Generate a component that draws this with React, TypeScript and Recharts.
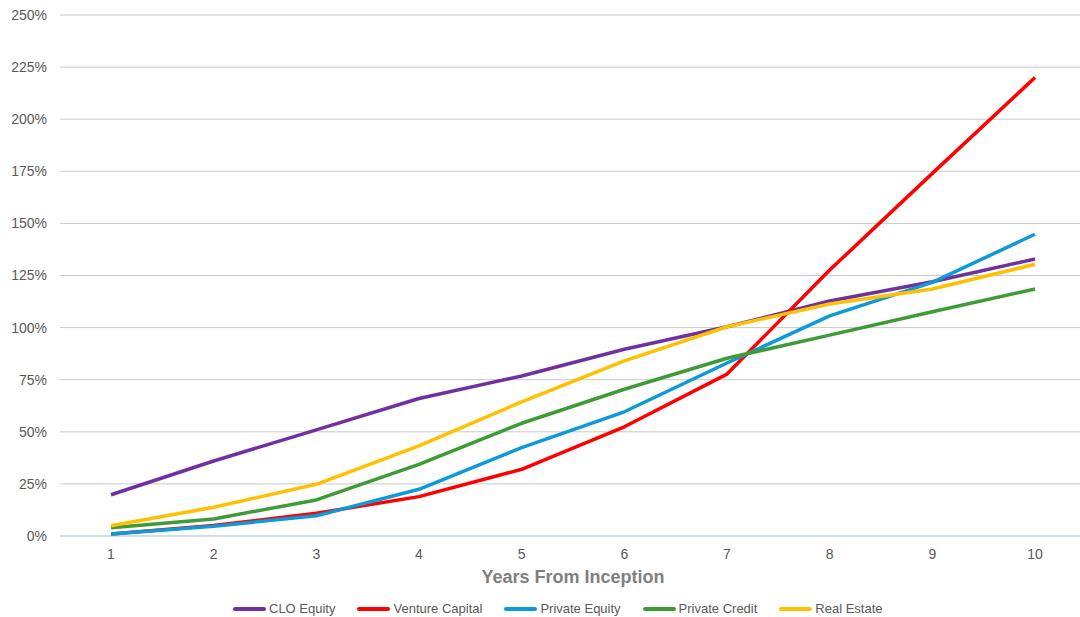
import React from "react";
import { LineChart, Line, XAxis, YAxis, CartesianGrid, ReferenceLine } from "recharts";

// Cumulative return by year since fund inception (%)
const years = [1, 2, 3, 4, 5, 6, 7, 8, 9, 10];
const cloEquity = [19.8, 36, 50.9, 66, 76.8, 89.6, 100.4, 112.8, 122, 132.9];
const ventureCapital = [1, 5, 10.9, 18.9, 32, 52.4, 77.7, 127.6, 174, 220];
const privateEquity = [1, 4.7, 9.7, 22.4, 42.4, 59.6, 83, 105.6, 121.7, 144.8];
const privateCredit = [4, 8.2, 17.3, 34.4, 54.1, 70.4, 85.3, 96.4, 107.6, 118.5];
const realEstate = [4.9, 13.8, 24.8, 43.2, 64.4, 84, 100.4, 111.3, 118.5, 130.4];
const yTicks = [0, 25, 50, 75, 100, 125, 150, 175, 200, 225, 250];

const series = [
  { key: "clo", name: "CLO Equity", values: cloEquity, color: "#7030A0" },
  { key: "vc", name: "Venture Capital", values: ventureCapital, color: "#FF0000" },
  { key: "pe", name: "Private Equity", values: privateEquity, color: "#0E9AD6" },
  { key: "pc", name: "Private Credit", values: privateCredit, color: "#3E9B37" },
  { key: "re", name: "Real Estate", values: realEstate, color: "#FFC000" },
];

const data = years.map((year, i) => {
  const row: Record<string, number> = { year };
  series.forEach((s) => {
    row[s.key] = s.values[i];
  });
  return row;
});

const FONT = "'Liberation Sans', Arial, sans-serif";
const GRAY = "#595959";

export default function App() {
  return (
    <div
      style={{
        position: "absolute",
        left: 0,
        top: 0,
        width: 1080,
        height: 617,
        overflow: "hidden",
        background: "#fff",
        fontFamily: FONT,
      }}
    >
      <LineChart
        width={1100}
        height={617}
        data={data}
        margin={{ top: 15, right: 14, bottom: 51, left: 0 }}
      >
        <CartesianGrid vertical={false} stroke="#C9C9C9" strokeWidth={1} />
        <XAxis
          dataKey="year"
          type="category"
          height={30}
          padding={{ left: 51, right: 51 }}
          axisLine={false}
          tickLine={false}
          tickMargin={7}
          tick={{ fill: GRAY, fontSize: 14, fontFamily: FONT }}
          label={{
            value: "Years From Inception",
            position: "bottom",
            offset: 4,
            fill: "#7F7F7F",
            fontSize: 18,
            fontWeight: "bold",
            fontFamily: FONT,
          }}
        />
        <YAxis
          width={60}
          domain={[0, 250]}
          ticks={yTicks}
          interval={0}
          axisLine={false}
          tickLine={false}
          tickMargin={7}
          tickFormatter={(v: number) => `${v}%`}
          tick={{ fill: GRAY, fontSize: 14, fontFamily: FONT }}
        />
        <ReferenceLine y={0} stroke="#BDD7EE" strokeWidth={1} />
        {series.map((s) => (
          <Line
            key={s.key}
            dataKey={s.key}
            name={s.name}
            stroke={s.color}
            strokeWidth={3.5}
            dot={false}
            activeDot={false}
            strokeLinejoin="round"
            isAnimationActive={false}
          />
        ))}
      </LineChart>
      <div
        style={{
          position: "absolute",
          left: 233,
          top: 601,
          display: "flex",
          alignItems: "center",
          gap: 22,
          fontSize: 13,
          color: GRAY,
          fontFamily: FONT,
          whiteSpace: "nowrap",
        }}
      >
        {series.map((s) => (
          <div key={s.key} style={{ display: "flex", alignItems: "center" }}>
            <span
              style={{
                display: "inline-block",
                width: 33,
                height: 4,
                background: s.color,
                borderRadius: 2,
                marginRight: 3,
              }}
            />
            <span style={{ lineHeight: "16px" }}>{s.name}</span>
          </div>
        ))}
      </div>
    </div>
  );
}
